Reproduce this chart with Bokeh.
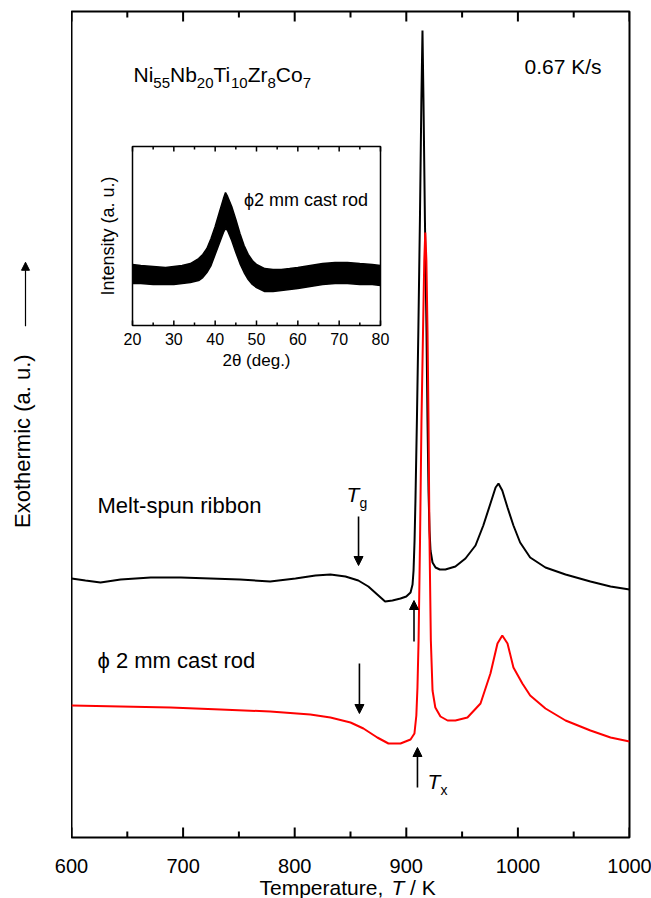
import math
from bokeh.plotting import figure
from bokeh.layouts import row, column
from bokeh.models import Range1d, Arrow, NormalHead, ColumnDataSource
from bokeh.core.properties import value
from bokeh.embed import file_html
from bokeh.resources import INLINE

# ---------------- data ----------------
# DSC trace, melt-spun ribbon (temperature K, heat flow arb. units)
ribbon_T = [600, 612.5, 626, 644, 671, 698, 724.5, 751, 778, 800.7, 818.6, 832, 845.5, 857, 866, 874,
            881, 887.6, 894.8, 900, 903.8, 905.6, 906.5, 907.4, 908.2, 909.5, 910.8, 912.2, 913.5, 914.5,
            915.4, 916.7, 918.1, 919.0, 919.9, 920.8, 921.7, 923.5, 926.2, 930, 935, 944, 953, 962, 969,
            975.4, 980, 982.6, 986, 990.7, 996, 1002, 1011, 1024.7, 1042.7, 1065, 1083, 1100]
ribbon_v = [259, 257, 255, 258, 260, 260, 259, 258, 256, 259, 262, 263, 261, 257, 251, 243,
            236, 237, 239, 241, 245, 253, 267, 297, 337, 417, 507, 617, 737, 807,
            737, 617, 507, 417, 347, 307, 287, 275, 270, 268, 268, 271, 279, 292, 312,
            334, 350, 354, 347, 330, 312, 295, 280, 270, 263, 256, 251, 248]

# DSC trace, 2 mm cast rod
rod_T = [600, 644, 688.7, 733.5, 778, 814, 832, 850, 861.6, 874, 884, 894.8, 903.8, 907.3, 909, 910,
         911, 912.3, 913.6, 915, 916.1, 917.0, 918.0, 919.0, 919.9, 920.8, 922, 923.5, 926, 930.6,
         937, 944, 954.8, 966.5, 975.4, 981.7, 986, 990.7, 996, 1004, 1011, 1024.7, 1042.7, 1065,
         1083, 1100]
rod_v = [132, 131, 130, 128, 126, 123, 120, 115, 109, 100, 94, 94, 98, 104, 122, 150,
         197, 297, 417, 507, 577, 605, 577, 507, 417, 297, 197, 147, 130, 121,
         117, 117, 120, 134, 164, 194, 202, 194, 170, 154, 142, 129, 117, 107,
         100, 96]

# inset XRD band (2-theta deg, lower / upper envelope of the noisy trace, arb. units)
xrd_2theta = [20, 22, 25, 28, 30, 32, 34, 36, 37, 38, 39, 40, 41, 42, 42.5, 43, 44, 45, 46, 47,
              48, 49, 50, 52, 54, 56, 58, 60, 63, 66, 69, 72, 75, 78, 80]
xrd_upper = [34.1, 33.5, 33.0, 32.4, 33.0, 33.5, 34.6, 37.4, 39.7, 43.0, 48.6, 55.3, 63.1, 70.9, 74.3,
             72.1, 66.5, 59.2, 51.4, 44.7, 39.7, 36.3, 34.1, 31.8, 31.3, 31.3, 31.8, 32.4, 33.5, 34.6,
             35.2, 35.2, 34.6, 34.1, 33.5]
xrd_lower = [23.5, 23.5, 22.9, 22.9, 22.9, 23.5, 24.0, 25.1, 26.8, 29.6, 33.5, 39.7, 45.8, 52.0, 54.2,
             53.1, 47.5, 40.8, 34.6, 29.6, 25.7, 22.9, 21.2, 19.0, 19.0, 19.6, 20.1, 20.7, 21.8, 22.9,
             23.5, 23.5, 22.9, 22.9, 22.3]

main_ticks = [600, 700, 800, 900, 1000, 1100]
main_tick_labels = ["600", "700", "800", "900", "1000", "1000"]
main_minor = [650, 750, 850, 950, 1050]
inset_ticks = [20, 30, 40, 50, 60, 70, 80]
inset_tick_labels = ["20", "30", "40", "50", "60", "70", "80"]
inset_minor = [25, 35, 45, 55, 65, 75]

# arrows: (T, v_start, v_end)
tg_arrows = [(857.2, 321, 272), (858.0, 174, 124)]
tx_arrows = [(906.9, 196, 237), (910.0, 50, 90)]

FONT = "Liberation Sans"

# ---------------- geometry (page pixels) ----------------
PAGE_W, PAGE_H = 651, 898
FL, FR, FT, FB = 71, 629, 11, 837          # main frame
LEFT_W = FL
MAIN_W = PAGE_W - LEFT_W
MAIN_H = FB + 3
STRIP_H = PAGE_H - MAIN_H
FW, FH = FR - FL, FB - FT
T0, T1 = 600, 1100
px_per_T = FW / (T1 - T0)


def T_at(px):
    return T0 + (px - FL) / px_per_T


def v_at(py):
    return FB - py


def bare(fig):
    fig.outline_line_color = None
    fig.grid.visible = False
    fig.axis.visible = False
    fig.background_fill_color = "white"
    fig.border_fill_color = "white"


# ---------------- main figure ----------------
p = figure(width=MAIN_W, height=MAIN_H, x_range=Range1d(T0, T1), y_range=Range1d(0, FH),
           output_backend="svg", toolbar_location=None,
           min_border_left=0, min_border_right=MAIN_W - FW, min_border_top=FT,
           min_border_bottom=MAIN_H - FB)
p.background_fill_color = "white"
p.border_fill_color = "white"
p.outline_line_color = "black"
p.outline_line_width = 2
p.grid.visible = False
p.axis.visible = False

# inward ticks on bottom and top edges
nM, nm = len(main_ticks), len(main_minor)
for base, sgn in [(0, 1), (FH, -1)]:
    p.segment(x0=main_ticks, y0=[base] * nM, x1=main_ticks, y1=[base + sgn * 10] * nM,
              line_color="black", line_width=2)
    p.segment(x0=main_minor, y0=[base] * nm, x1=main_minor, y1=[base + sgn * 6] * nm,
              line_color="black", line_width=2)

# curves
p.line(ribbon_T, ribbon_v, line_color="black", line_width=2)
p.line(rod_T, rod_v, line_color="#ff0000", line_width=2)

for (t, a, b) in tg_arrows + tx_arrows:
    p.add_layout(Arrow(end=NormalHead(size=9, fill_color="black", line_color="black", line_width=1),
                       x_start=t, y_start=a, x_end=t, y_end=b,
                       line_color="black", line_width=1.6))

# texts (vertical positions are text centres)
CW = {'N': .722, 'i': .222, 'b': .556, 'T': .611, 'Z': .611, 'r': .333, 'C': .722, 'o': .556}


def seg_width(s, size):
    return sum(CW.get(c, .556) for c in s) * size


formula = [("Ni", False), ("55", True), ("Nb", False), ("20", True), ("Ti", False), ("10", True),
           ("Zr", False), ("8", True), ("Co", False), ("7", True)]
xs, ys, txt, xo, yo, fs = [], [], [], [], [], []
off = 0.0
for s, sub in formula:
    size = 15 if sub else 21
    xs.append(T_at(133)); ys.append(v_at(74)); txt.append(s)
    xo.append(off); yo.append(8 if sub else 0); fs.append(f"{size}px")
    off += seg_width(s, size)
p.text(x="x", y="y", text="t", x_offset="xo", y_offset="yo", text_font_size="fs",
       source=ColumnDataSource(dict(x=xs, y=ys, t=txt, xo=xo, yo=yo, fs=fs)),
       text_font=value(FONT), text_baseline="middle", text_align="left", text_color="black")

p.text(x=[T_at(601)], y=[v_at(66)], text=["0.67 K/s"], text_font=value(FONT), text_font_size="21px",
       text_align="right", text_baseline="middle", text_color="black")
p.text(x=[T_at(97)], y=[v_at(505)], text=["Melt-spun ribbon"], text_font=value(FONT),
       text_font_size="22px", text_align="left", text_baseline="middle", text_color="black")
p.text(x=[T_at(97)], y=[v_at(660)], text=["\u03d5 2 mm cast rod"], text_font=value(FONT),
       text_font_size="22px", text_align="left", text_baseline="middle", text_color="black")

for (lx, ly, sub) in [(346, 494, "g"), (427, 781, "x")]:
    p.text(x=[T_at(lx)], y=[v_at(ly)], text=["T"], text_font=value(FONT), text_font_size="21px",
           text_font_style="italic", text_baseline="middle", text_color="black")
    p.text(x=[T_at(lx)], y=[v_at(ly)], text=[sub], x_offset=13, y_offset=8, text_font=value(FONT),
           text_font_size="14px", text_baseline="middle", text_color="black")

# ---------------- inset (XRD) via extra ranges ----------------
IL, IR, ITOP, IBOT = 132, 380, 146, 325
kx = (IR - IL) / (inset_ticks[-1] - inset_ticks[0])
x_start = inset_ticks[0] - (IL - FL) / kx
ky = (IBOT - ITOP) / 100.0
y_start = 0 - (FB - IBOT) / ky
p.extra_x_ranges = {"ix": Range1d(x_start, x_start + FW / kx)}
p.extra_y_ranges = {"iy": Range1d(y_start, y_start + FH / ky)}
R = dict(x_range_name="ix", y_range_name="iy")

p.quad(left=[20], right=[80], bottom=[0], top=[100], fill_color="white", line_color="black",
       line_width=1.5, **R)
p.varea(x=xrd_2theta, y1=xrd_lower, y2=xrd_upper, fill_color="black", **R)
p.line(xrd_2theta, xrd_upper, line_color="black", line_width=1.5, **R)
p.line(xrd_2theta, xrd_lower, line_color="black", line_width=1.5, **R)

maj_len, min_len = 5 / ky, 3 / ky
n1, n2 = len(inset_ticks), len(inset_minor)
for base, sgn in [(0, 1), (100, -1)]:
    p.segment(x0=inset_ticks, y0=[base] * n1, x1=inset_ticks, y1=[base + sgn * maj_len] * n1,
              line_color="black", line_width=1.5, **R)
    p.segment(x0=inset_minor, y0=[base] * n2, x1=inset_minor, y1=[base + sgn * min_len] * n2,
              line_color="black", line_width=1.5, **R)

p.text(x=inset_ticks, y=[0] * n1, text=inset_tick_labels, y_offset=13, text_align="center",
       text_baseline="middle", text_font=value(FONT), text_font_size="16px", text_color="black", **R)
p.text(x=[50], y=[0], text=["2\u03b8 (deg.)"], y_offset=35, text_align="center",
       text_baseline="middle", text_font=value(FONT), text_font_size="17px", text_color="black", **R)
p.text(x=[20], y=[50], text=["Intensity (a. u.)"], x_offset=-25, angle=math.pi / 2,
       text_align="center", text_baseline="middle", text_font=value(FONT), text_font_size="18px",
       text_color="black", **R)
p.text(x=[77], y=[(IBOT - 199) / ky], text=["\u03d52 mm cast rod"], text_align="right",
       text_baseline="middle", text_font=value(FONT), text_font_size="18px", text_color="black", **R)

# ---------------- left strip: y-axis title ----------------
left = figure(width=LEFT_W, height=MAIN_H, x_range=Range1d(0, LEFT_W), y_range=Range1d(0, MAIN_H),
              output_backend="svg", toolbar_location=None, min_border=0)
bare(left)
left.text(x=[22], y=[MAIN_H - 437], text=["Exothermic (a. u.)"], angle=math.pi / 2,
          text_align="center", text_baseline="middle", text_font=value(FONT),
          text_font_size="22px", text_color="black")
left.add_layout(Arrow(end=NormalHead(size=8, fill_color="black", line_color="black"),
                      x_start=25, y_start=MAIN_H - 320, x_end=25, y_end=MAIN_H - 255,
                      line_color="black", line_width=1.2))

# ---------------- bottom strip (full width): tick labels + x-axis title ----------------
bx0 = T0 - FL / px_per_T
bottom = figure(width=PAGE_W, height=STRIP_H, x_range=Range1d(bx0, bx0 + PAGE_W / px_per_T),
                y_range=Range1d(0, STRIP_H), output_backend="svg", toolbar_location=None, min_border=0)
bare(bottom)
bottom.text(x=main_ticks, y=[PAGE_H - 865] * nM, text=main_tick_labels, text_align="center",
            text_baseline="middle", text_font=value(FONT), text_font_size="20px", text_color="black")

xl_T, xl_y = T_at(259), PAGE_H - 887
TS = 21
w1 = sum({'T': .611, 'e': .556, 'm': .833, 'p': .556, 'r': .333, 'a': .556, 't': .278, 'u': .556,
          ',': .278, ' ': .278}[c] for c in "Temperature, ") * TS
bottom.text(x=[xl_T], y=[xl_y], text=["Temperature,"], text_font=value(FONT), text_font_size=f"{TS}px",
            text_baseline="middle", text_color="black")
bottom.text(x=[xl_T], y=[xl_y], x_offset=w1, text=["T"], text_font=value(FONT), text_font_size=f"{TS}px",
            text_font_style="italic", text_baseline="middle", text_color="black")
bottom.text(x=[xl_T], y=[xl_y], x_offset=w1 + 0.611 * TS + 0.278 * TS, text=["/ K"],
            text_font=value(FONT), text_font_size=f"{TS}px", text_baseline="middle", text_color="black")

layout = column(row(left, p), bottom)
open("out.html", "w").write(file_html(layout, INLINE))
